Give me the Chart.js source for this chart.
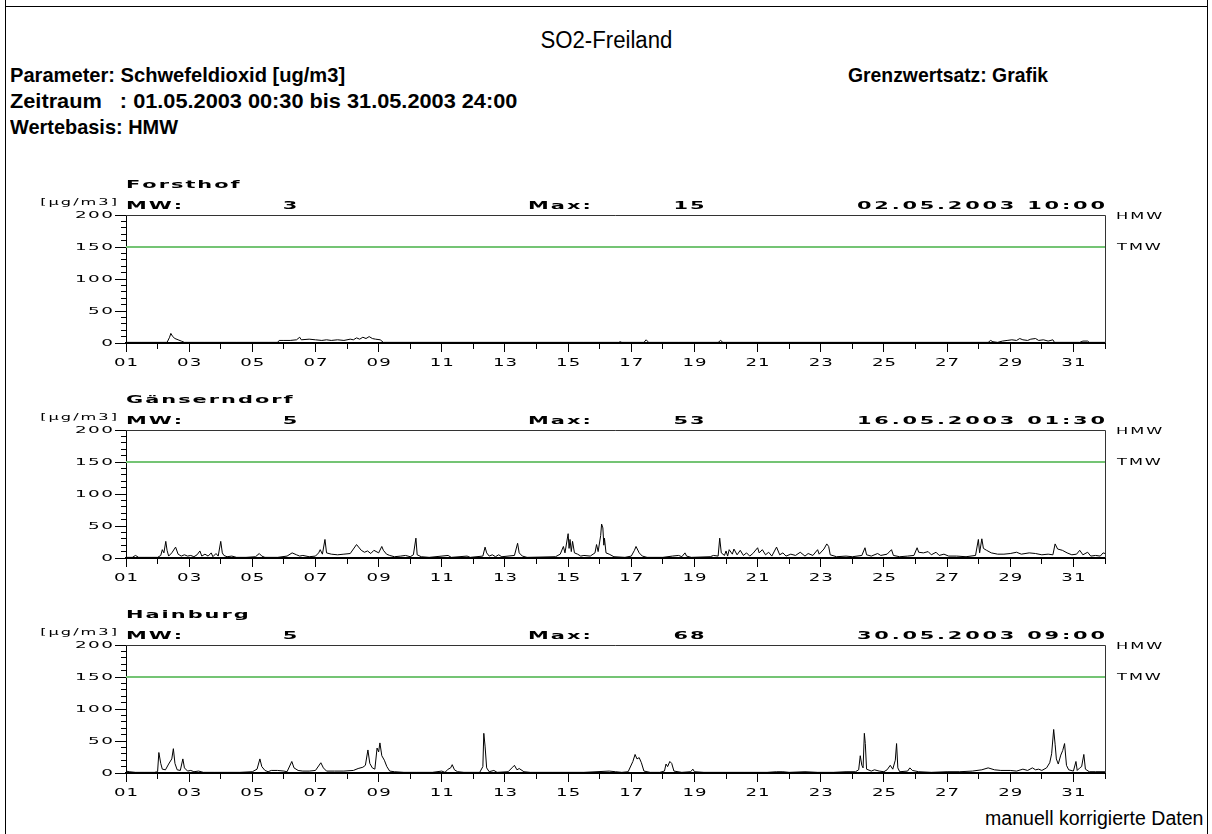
<!DOCTYPE html>
<html>
<head>
<meta charset="utf-8">
<script src="https://cdn.jsdelivr.net/npm/chart.js@4.4.0/dist/chart.umd.min.js"></script>
<style>
html, body { margin: 0; padding: 0; background: #fff; }
body { width: 1212px; height: 834px; position: relative; overflow: hidden; }
.frame { position: absolute; left: 5px; top: 0; width: 1201px; height: 834px; border-left: 1px solid #000; border-right: 1px solid #000; }
.rule { position: absolute; left: 5px; top: 6px; width: 1203px; height: 1px; background: #000; }
.txt { position: absolute; white-space: pre; color: #000; line-height: 1; }
.hb { font: bold 21px "Liberation Sans", Arial, sans-serif; }
.hr { font: 23px "Liberation Sans", Arial, sans-serif; }
.panel { position: absolute; left: 0; }
</style>
</head>
<body>
<div class="frame"></div>
<div class="rule"></div>

<div class="txt hr" data-x="606" data-y="40" data-w="132" data-a="center">SO2-Freiland</div>
<div class="txt hb" data-x="10" data-y="75" data-w="335">Parameter: Schwefeldioxid [ug/m3]</div>
<div class="txt hb" data-x="10" data-y="101" data-w="507">Zeitraum   : 01.05.2003 00:30 bis 31.05.2003 24:00</div>
<div class="txt hb" data-x="10" data-y="127" data-w="168">Wertebasis: HMW</div>
<div class="txt hb" data-x="848" data-y="75" data-w="200">Grenzwertsatz: Grafik</div>
<div class="txt hr" data-x="1203" data-y="818" data-w="218" data-a="right" style="font-size:20px">manuell korrigierte Daten</div>

<canvas id="c0" class="panel" width="1212" height="210" style="top:165px"></canvas>
<canvas id="c1" class="panel" width="1212" height="210" style="top:380px"></canvas>
<canvas id="c2" class="panel" width="1212" height="210" style="top:595px"></canvas>

<script>
// Stationen und Kennwerte
const stations = ['Forsthof', 'Gänserndorf', 'Hainburg'];
const meanValues = [3, 5, 5];
const maxValues = [15, 53, 68];
const maxTimes = ['02.05.2003 10:00', '16.05.2003 01:30', '30.05.2003 09:00'];

// Achsen
const dayTickLabels = ['01','03','05','07','09','11','13','15','17','19','21','23','25','27','29','31'];
const yTickLabels = [0, 50, 100, 150, 200];
const tmwLimit = 150;

// Halbstundenwerte, vereinfacht: [Tag im Mai, ug/m3]
const forsthofSeries = [
  [1.0,1],[1.5,1],[2.0,1],[2.3,1],[2.38,9],[2.42,15],[2.48,10],[2.55,7],[2.65,5],[2.75,3],[2.85,1],[3.5,1],[4.5,1],[5.5,1],
  [5.8,1],[5.85,4],[6.0,4],[6.2,4],[6.4,5],[6.5,9],[6.55,5],[6.8,6],[7.0,5],[7.2,4],[7.35,5],[7.5,4],[7.7,5],[7.9,4],
  [8.1,6],[8.2,5],[8.3,8],[8.4,6],[8.5,9],[8.6,7],[8.7,10],[8.8,7],[8.9,6],[9.05,5],[9.15,1],[10.0,1],[12.0,1],[14.0,1],
  [15.5,1],[16.6,1],[16.65,2],[16.7,1],[17.4,1],[17.47,5],[17.55,1],[18.5,1],[19.75,1],[19.83,4],[19.9,1],[21.0,1],
  [23.0,1],[25.0,1],[27.0,1],[28.3,1],[28.38,4],[28.45,2],[28.6,1],[28.75,3],[28.9,4],[29.05,5],[29.2,4],[29.3,7],
  [29.4,5],[29.55,4],[29.65,6],[29.8,7],[29.9,4],[30.05,5],[30.2,3],[30.35,5],[30.4,1],[31.2,1],[31.3,3],[31.45,3],
  [31.5,1],[32.0,1]
];

const gaenserndorfSeries = [
  [1.0,1],[1.2,1],[1.3,4],[1.4,1],[1.6,1],[1.8,1],[2.0,1],[2.1,4],[2.15,13],[2.2,8],[2.26,26],[2.3,12],[2.35,3],[2.45,8],
  [2.57,17],[2.65,6],[2.75,3],[2.85,5],[2.95,3],[3.05,4],[3.15,2],[3.25,5],[3.34,11],[3.4,3],[3.5,6],[3.6,3],[3.7,8],
  [3.75,2],[3.85,7],[3.92,3],[4.0,26],[4.05,8],[4.1,4],[4.2,2],[4.35,3],[4.5,1],[4.8,1],[5.1,2],[5.22,7],[5.3,3],[5.4,1],
  [5.8,1],[6.1,3],[6.26,8],[6.4,5],[6.5,3],[6.6,4],[6.8,2],[7.0,3],[7.1,8],[7.15,13],[7.22,6],[7.3,29],[7.35,8],[7.5,6],
  [7.7,5],[7.9,6],[8.1,7],[8.3,21],[8.45,12],[8.55,9],[8.65,11],[8.75,7],[8.85,12],[9.0,8],[9.1,18],[9.15,12],[9.25,6],
  [9.35,4],[9.5,2],[9.7,3],[9.85,4],[10.0,2],[10.1,5],[10.18,31],[10.22,5],[10.35,2],[10.6,1],[11.2,4],[11.3,1],[11.8,3],
  [11.9,1],[12.3,3],[12.37,17],[12.42,8],[12.5,3],[12.6,5],[12.7,2],[12.8,5],[12.9,2],[13.3,4],[13.4,23],[13.45,8],
  [13.55,3],[13.7,1],[14.6,2],[14.75,6],[14.85,18],[14.9,8],[15.0,38],[15.03,15],[15.06,29],[15.1,10],[15.14,26],[15.2,8],
  [15.3,6],[15.4,3],[15.5,4],[15.7,3],[15.85,8],[15.9,21],[15.95,10],[16.03,35],[16.06,53],[16.1,47],[16.13,20],[16.15,31],
  [16.2,8],[16.3,6],[16.45,2],[16.8,1],[17.0,3],[17.1,12],[17.15,18],[17.25,8],[17.35,3],[17.5,1],[18.0,1],[18.3,3],
  [18.5,4],[18.6,2],[18.7,8],[18.75,3],[18.9,1],[19.5,2],[19.6,4],[19.75,3],[19.8,31],[19.85,8],[19.95,4],[20.0,11],
  [20.05,3],[20.1,13],[20.2,6],[20.25,14],[20.35,5],[20.45,12],[20.55,4],[20.65,8],[20.75,3],[20.85,7],[21.0,16],[21.05,8],
  [21.15,13],[21.25,5],[21.35,9],[21.45,3],[21.6,17],[21.7,5],[21.8,8],[21.9,3],[22.05,6],[22.2,4],[22.35,9],[22.5,3],
  [22.6,7],[22.75,4],[22.9,13],[22.95,6],[23.1,14],[23.19,22],[23.25,18],[23.3,5],[23.5,2],[23.8,3],[24.0,2],[24.3,4],
  [24.4,16],[24.45,5],[24.6,3],[24.8,7],[24.9,4],[25.1,6],[25.24,13],[25.3,4],[25.5,2],[25.75,3],[25.95,4],[26.05,16],
  [26.1,9],[26.25,8],[26.4,10],[26.5,5],[26.65,9],[26.75,4],[26.9,6],[27.05,3],[27.3,3],[27.6,2],[27.9,4],[27.99,29],
  [28.03,8],[28.1,30],[28.15,15],[28.25,12],[28.4,8],[28.6,6],[28.8,6],[29.0,7],[29.2,9],[29.35,6],[29.6,8],[29.8,7],
  [30.0,5],[30.2,6],[30.35,5],[30.42,22],[30.5,14],[30.65,12],[30.8,8],[30.95,5],[31.1,6],[31.2,12],[31.3,5],[31.45,9],
  [31.55,3],[31.7,4],[31.85,3],[31.94,8],[32.0,7]
];

const hainburgSeries = [
  [1.0,3],[1.1,2],[1.3,1],[1.6,1],[1.9,1],[2.0,2],[2.04,32],[2.1,15],[2.15,6],[2.25,5],[2.35,14],[2.45,22],[2.5,38],
  [2.55,15],[2.62,5],[2.72,4],[2.8,22],[2.85,8],[2.95,3],[3.05,4],[3.15,2],[3.3,3],[3.45,1],[3.8,1],[4.2,1],[4.6,1],
  [5.0,2],[5.15,6],[5.24,22],[5.3,10],[5.4,4],[5.5,2],[5.6,4],[5.8,4],[6.0,3],[6.1,2],[6.25,18],[6.32,8],[6.45,4],[6.6,3],
  [6.8,3],[7.0,4],[7.17,16],[7.25,8],[7.35,3],[7.6,3],[7.9,3],[8.2,4],[8.35,7],[8.5,9],[8.58,12],[8.66,36],[8.72,15],
  [8.8,8],[8.88,6],[8.95,39],[9.0,33],[9.04,47],[9.1,27],[9.18,20],[9.26,10],[9.35,3],[9.5,2],[9.8,1],[10.2,1],[10.7,1],
  [11.0,3],[11.1,1],[11.2,6],[11.28,8],[11.33,13],[11.4,5],[11.5,2],[11.7,1],[12.2,1],[12.3,10],[12.33,62],[12.37,42],
  [12.42,8],[12.5,2],[12.65,4],[12.75,1],[13.1,2],[13.22,8],[13.3,12],[13.38,5],[13.45,7],[13.6,2],[13.8,1],[14.5,1],
  [15.5,1],[16.3,3],[16.5,2],[16.7,1],[16.9,2],[17.05,18],[17.12,29],[17.18,22],[17.25,24],[17.32,16],[17.4,3],[17.6,1],
  [17.9,1],[18.05,3],[18.1,14],[18.15,10],[18.22,18],[18.28,15],[18.35,3],[18.6,1],[18.88,2],[18.95,6],[19.0,2],[19.3,1],
  [20.0,1],[20.6,1],[21.3,1],[21.6,2],[21.8,2],[22.0,1],[22.5,2],[22.9,1],[23.4,1],[23.8,2],[24.1,2],[24.2,5],[24.25,27],
  [24.3,12],[24.34,8],[24.38,62],[24.41,46],[24.45,6],[24.6,3],[24.7,5],[24.85,3],[25.0,2],[25.1,5],[25.2,12],[25.28,6],
  [25.36,20],[25.4,46],[25.44,8],[25.5,2],[25.75,3],[25.82,8],[25.9,4],[26.1,2],[26.5,1],[27.0,2],[27.4,2],[27.8,3],
  [28.1,5],[28.3,8],[28.5,5],[28.7,4],[29.0,4],[29.2,3],[29.4,6],[29.55,4],[29.7,8],[29.8,5],[29.9,6],[30.0,4],[30.15,8],
  [30.25,16],[30.31,30],[30.375,68],[30.42,45],[30.46,22],[30.52,14],[30.6,28],[30.66,35],[30.72,46],[30.78,12],[30.85,5],
  [31.0,3],[31.08,18],[31.12,4],[31.2,8],[31.26,10],[31.33,29],[31.38,6],[31.5,2],[31.7,2],[32.0,2]
];

const seriesList = [forsthofSeries, gaenserndorfSeries, hainburgSeries];

// Seitentexte auf Zielbreite strecken (schmale Plotterschrift)
document.querySelectorAll('[data-w]').forEach(el => {
  const w = +el.dataset.w, x = +el.dataset.x, y = +el.dataset.y, a = el.dataset.a || 'left';
  const nw = el.offsetWidth, h = el.offsetHeight;
  el.style.top = (y - h / 2) + 'px';
  el.style.left = (a === 'left' ? x : a === 'right' ? x - nw : x - nw / 2) + 'px';
  el.style.transformOrigin = a === 'left' ? 'left center' : a === 'right' ? 'right center' : 'center center';
  el.style.transform = 'scaleX(' + (w / nw) + ')';
});

// gesperrte, breit gezogene Schrift wie am Plotter
function spaced(ctx, text, x, y, font, sx, gap, align) {
  ctx.font = font;
  ctx.textAlign = 'left';
  ctx.textBaseline = 'middle';
  const chars = Array.from(text);
  const adv = chars.map(c => ctx.measureText(c).width * sx);
  const total = adv.reduce((s, v) => s + v, 0) + gap * (chars.length - 1);
  let cx = align === 'right' ? x - total : align === 'center' ? x - total / 2 : x;
  chars.forEach((c, k) => {
    ctx.save();
    ctx.translate(cx, y);
    ctx.scale(sx, 1);
    ctx.fillText(c, 0, 0);
    ctx.restore();
    cx += adv[k] + gap;
  });
}

const BOLD = 'bold 11px "DejaVu Sans", sans-serif';
const THIN = '9px "DejaVu Sans", sans-serif';

const panelText = {
  id: 'panelText',
  afterDraw(chart, args, opts) {
    const { ctx, chartArea: a, scales: { x, y } } = chart;
    const i = opts.index;
    ctx.save();
    ctx.strokeStyle = '#333';
    ctx.lineWidth = 1;
    ctx.beginPath();
    ctx.moveTo(a.left, a.top + 0.5);
    ctx.lineTo(a.right + 0.5, a.top + 0.5);
    ctx.lineTo(a.right + 0.5, a.bottom);
    ctx.stroke();

    ctx.fillStyle = '#000';
    // Tick-Beschriftungen
    x.ticks.forEach(t => {
      if (t.value % 2 === 1 && t.value < 32) {
        spaced(ctx, dayTickLabels[(t.value - 1) / 2], x.getPixelForValue(t.value), a.bottom + 20,
          '11px "DejaVu Sans", sans-serif', 1.65, 1, 'center');
      }
    });
    y.ticks.forEach(t => {
      if (yTickLabels.includes(t.value)) {
        spaced(ctx, String(t.value), a.left - 13, y.getPixelForValue(t.value) + 1,
          '8px "DejaVu Sans", sans-serif', 2.3, 1.5, 'right');
      }
    });

    // Kopfzeilen
    spaced(ctx, stations[i], a.left, a.top - 30, BOLD, 1.9, 2, 'left');
    spaced(ctx, '[µg/m3]', a.left - 9, a.top - 12, THIN, 1.8, 2, 'right');
    spaced(ctx, 'MW:', a.left, a.top - 9, BOLD, 1.9, 2, 'left');
    spaced(ctx, String(meanValues[i]), a.left + 164, a.top - 9, BOLD, 1.9, 2, 'center');
    spaced(ctx, 'Max:', a.left + 402, a.top - 9, BOLD, 1.9, 2, 'left');
    spaced(ctx, String(maxValues[i]), a.left + 563, a.top - 9, BOLD, 1.9, 2, 'center');
    spaced(ctx, maxTimes[i], a.right, a.top - 9, BOLD, 1.9, 2.8, 'right');

    spaced(ctx, 'HMW', a.right + 11, y.getPixelForValue(200) + 2, THIN, 1.8, 2, 'left');
    spaced(ctx, 'TMW', a.right + 12, y.getPixelForValue(tmwLimit) + 1, THIN, 1.8, 2, 'left');
    ctx.restore();
  }
};

seriesList.forEach((series, i) => {
  const ctx = document.getElementById('c' + i).getContext('2d');
  new Chart(ctx, {
    type: 'line',
    data: {
      datasets: [
        {
          data: [[1, tmwLimit], [32, tmwLimit]],
          borderColor: '#74c474',
          borderWidth: 2,
          pointRadius: 0
        },
        {
          data: series,
          borderColor: '#000',
          borderWidth: 1,
          pointRadius: 0,
          tension: 0
        }
      ]
    },
    options: {
      responsive: false,
      animation: false,
      devicePixelRatio: 1,
      layout: { padding: { top: 50, right: 107, left: 0, bottom: 0 } },
      plugins: {
        legend: { display: false },
        tooltip: { enabled: false },
        panelText: { index: i }
      },
      scales: {
        x: {
          type: 'linear',
          min: 1,
          max: 32,
          afterFit(s) { s.height = 32; },
          ticks: { stepSize: 1, display: false, autoSkip: false },
          grid: {
            drawOnChartArea: false,
            tickLength: 9,
            tickColor: '#000',
            tickBorderDash: c => (c.tick && c.tick.value % 2 === 0 ? [5, 20] : [])
          },
          border: { color: '#000', width: 2 }
        },
        y: {
          min: 0,
          max: 200,
          afterFit(s) { s.width = 126; },
          ticks: { stepSize: 10, display: false },
          grid: {
            drawOnChartArea: false,
            tickLength: 11,
            tickColor: '#000',
            tickBorderDash: c => (c.tick && c.tick.value % 50 !== 0 ? [5, 6] : []),
            tickBorderDashOffset: c => (c.tick && c.tick.value % 50 !== 0 ? 5 : 0)
          },
          border: { color: '#000', width: 1 }
        }
      }
    },
    plugins: [panelText]
  });
});
</script>
</body>
</html>
